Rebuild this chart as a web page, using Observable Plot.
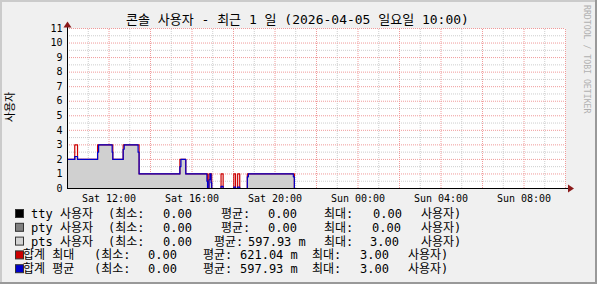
<!DOCTYPE html>
<html><head><meta charset="utf-8">
<script src="https://cdn.jsdelivr.net/npm/d3@7"></script>
<script src="https://cdn.jsdelivr.net/npm/@observablehq/plot@0.6"></script>
<style>
html,body{margin:0;padding:0;background:#f0f0f0;}
#wrap{position:relative;width:597px;height:284px;background:#f0f0f0;overflow:hidden;}
#wrap svg{position:absolute;left:0;top:0;}
</style></head><body>
<div id="wrap"></div>
<script>
// ---- data (minutes after Sat 2026-04-04 10:00) ----
const changeMinutes = [0, 21, 29, 87, 90, 129, 131, 161, 164, 204, 207, 325, 328, 342, 403, 405, 409, 412, 415, 417, 444, 450, 481, 486, 492, 498, 520, 523, 653, 656, 1440];
const avgUsers =      [2, 2.2, 2, 2.5, 3, 2.5, 2, 2.7, 3, 2.5, 1, 1.5, 2, 1, 0.5, 0, 0.6, 1, 0.4, 0, 0.15, 0, 0.1, 0, 0.1, 0, 0.8, 1, 0.8, 0, 0];
const maxUsers =      [2, 3, 2, 3, 3, 3, 2, 3, 3, 3, 1, 2, 2, 1, 1, 0, 1, 1, 1, 0, 1, 0, 1, 0, 1, 0, 1, 1, 1, 0, 0];

const titleText = "콘솔 사용자 - 최근 1 일 (2026-04-05 일요일 10:00)";
const yLabel = "사용자";
const watermark = "RRDTOOL / TOBI OETIKER";
const yTicks = [0,1,2,3,4,5,6,7,8,9,10,11];
const xTickHours = [2, 6, 10, 14, 18, 22]; // hours after start: Sat 12:00 ... Sun 08:00

const legendNames = ["tty 사용자", "pty 사용자", "pts 사용자", "합계 최대", "합계 평균"];
const legendColors = ["#000000", "#808080", "#d3d3d3", "#cc0000", "#0000cc"];
const legendMin = ["0.00", "0.00", "0.00", "0.00", "0.00"];
const legendAvg = ["0.00", "0.00", "597.93 m", "621.04 m", "597.93 m"];
const legendMax = ["0.00", "0.00", "3.00", "3.00", "3.00"];
const legendTail = "사용자)";

// ---- build ----
const start = new Date(Date.UTC(2026, 3, 4, 10, 0));
const end = new Date(Date.UTC(2026, 3, 5, 10, 0));
const toDate = m => new Date(start.getTime() + m * 60000);
const series = changeMinutes.map((m, i) => ({t: toDate(m), avg: avgUsers[i], max: maxUsers[i]}));
const hourLines = d3.range(1, 25).map(h => toDate(h * 60));
const minorX = hourLines.filter((d, i) => (i + 1) % 2 === 1);
const majorX = hourLines.filter((d, i) => (i + 1) % 2 === 0);
const minorY = d3.range(0.5, 11, 1);
const majorY = d3.range(1, 12, 1);
const xTicks = xTickHours.map(h => toDate(h * 60));
const fmtDay = ["Sun","Mon","Tue","Wed","Thu","Fri","Sat"];
const tickFmt = d => fmtDay[d.getUTCDay()] + " " + d3.utcFormat("%H:%M")(d);

function axesWithArrows(index, scales, values, dims) {
  const g = d3.create("svg:g");
  const x0 = dims.marginLeft, x1 = dims.width - dims.marginRight;
  const y0 = dims.height - dims.marginBottom, y1 = dims.marginTop;
  g.append("line").attr("x1", x0).attr("x2", x1 + 4).attr("y1", y0 + 0.5).attr("y2", y0 + 0.5).attr("stroke", "#000");
  g.append("line").attr("x1", x0 + 0.5).attr("x2", x0 + 0.5).attr("y1", y0).attr("y2", y1 - 1).attr("stroke", "#000");
  g.append("path").attr("d", `M${x1+3},${y0-3.5}L${x1+9},${y0+0.5}L${x1+3},${y0+4.5}Z`).attr("fill", "#8b1a1a");
  g.append("path").attr("d", `M${x0-3.5},${y1-0.5}L${x0+0.5},${y1-6.5}L${x0+4.5},${y1-0.5}Z`).attr("fill", "#8b1a1a");
  return g.node();
}

const chart = Plot.plot({
  width: 597, height: 284,
  marginLeft: 67, marginRight: 32, marginTop: 28, marginBottom: 96,
  x: {type: "utc", domain: [start, end]},
  y: {domain: [0, 11]},
  style: {background: "transparent", fontFamily: "'DejaVu Sans Mono', 'Noto Sans CJK KR', monospace", fontSize: "10px", color: "#000"},
  marks: [
    Plot.frame({fill: "#ffffff", stroke: null}),
    Plot.ruleY(minorY, {stroke: "#cdcdcd", strokeDasharray: "1,1"}),
    Plot.ruleX(minorX, {y1: 0, y2: 11, stroke: "#cdcdcd", strokeDasharray: "1,1"}),
    Plot.ruleY(majorY, {stroke: "#f09a9a", strokeDasharray: "1,1"}),
    Plot.ruleX(majorX, {y1: 0, y2: 11, stroke: "#f09a9a", strokeDasharray: "1,1"}),
    Plot.areaY(series, {x: "t", y: "avg", curve: "step-after", fill: "#d0d0d0"}),
    Plot.lineY(series, {x: "t", y: "max", curve: "step-after", stroke: "#cc0000", strokeWidth: 1.2}),
    Plot.lineY(series, {x: "t", y: "avg", curve: "step-after", stroke: "#0000cc", strokeWidth: 1.2}),
    Plot.axisY({ticks: yTicks, tickSize: 0, tickPadding: 5, label: null, fontSize: 10}),
    Plot.axisX({ticks: xTicks, tickFormat: tickFmt, tickSize: 0, tickPadding: 6, label: null, fontSize: 10}),
    axesWithArrows
  ]
});
document.getElementById("wrap").appendChild(chart);

// overlay: frame, title, watermark, y label, legend
const W = 597, H = 284;
const ov = d3.select("#wrap").append("svg").attr("width", W).attr("height", H)
  .style("font-family", "'DejaVu Sans Mono', 'Noto Sans CJK KR', monospace");
ov.append("rect").attr("x", 0).attr("y", 0).attr("width", W).attr("height", 2).attr("fill", "#cbcbcb");
ov.append("rect").attr("x", 0).attr("y", 0).attr("width", 2).attr("height", H).attr("fill", "#cbcbcb");
ov.append("rect").attr("x", W - 2).attr("y", 0).attr("width", 2).attr("height", H).attr("fill", "#999999");
ov.append("rect").attr("x", 0).attr("y", H - 2).attr("width", W).attr("height", 2).attr("fill", "#999999");

ov.append("text").attr("x", 297.5).attr("y", 24).attr("text-anchor", "middle")
  .attr("font-size", 13).attr("fill", "#000").text(titleText);
ov.append("text").attr("transform", "translate(584,5) rotate(90)")
  .attr("font-size", 8.2).attr("fill", "#b0b0b0").text(watermark);
ov.append("text").attr("transform", "translate(14,107) rotate(-90)").attr("text-anchor", "middle")
  .attr("font-size", 11).attr("fill", "#000").text(yLabel);

const colsA = {name: 31, minL: 108, min: 163, maxL: 324, tail: 421};
const colsB = {name: 23, minL: 94, min: 148, maxL: 312, tail: 408};
const avgLabelX = [221, 221, 214, 203, 203];
const avgStart = [268, 268, 248, 240, 240];
const maxStart = [373, 372, 370, 360, 360];
legendNames.forEach((name, i) => {
  const c = i < 3 ? colsA : colsB;
  const yb = 218 + i * 13.8;
  const g = ov.append("g").attr("font-size", 12).attr("fill", "#000");
  g.append("rect").attr("x", 15.5).attr("y", yb - 8.5).attr("width", 8).attr("height", 8)
    .attr("fill", legendColors[i]).attr("stroke", "#333").attr("stroke-width", 1);
  g.append("text").attr("x", c.name).attr("y", yb).text(name);
  g.append("text").attr("x", c.minL).attr("y", yb).text("(최소:");
  g.append("text").attr("x", c.min).attr("y", yb).text(legendMin[i]);
  g.append("text").attr("x", avgLabelX[i]).attr("y", yb).text("평균:");
  g.append("text").attr("x", avgStart[i]).attr("y", yb).attr("xml:space", "preserve").style("white-space", "pre").text(legendAvg[i]);
  g.append("text").attr("x", c.maxL).attr("y", yb).text("최대:");
  g.append("text").attr("x", maxStart[i]).attr("y", yb).text(legendMax[i]);
  g.append("text").attr("x", c.tail).attr("y", yb).text(legendTail);
});
</script>
</body></html>
